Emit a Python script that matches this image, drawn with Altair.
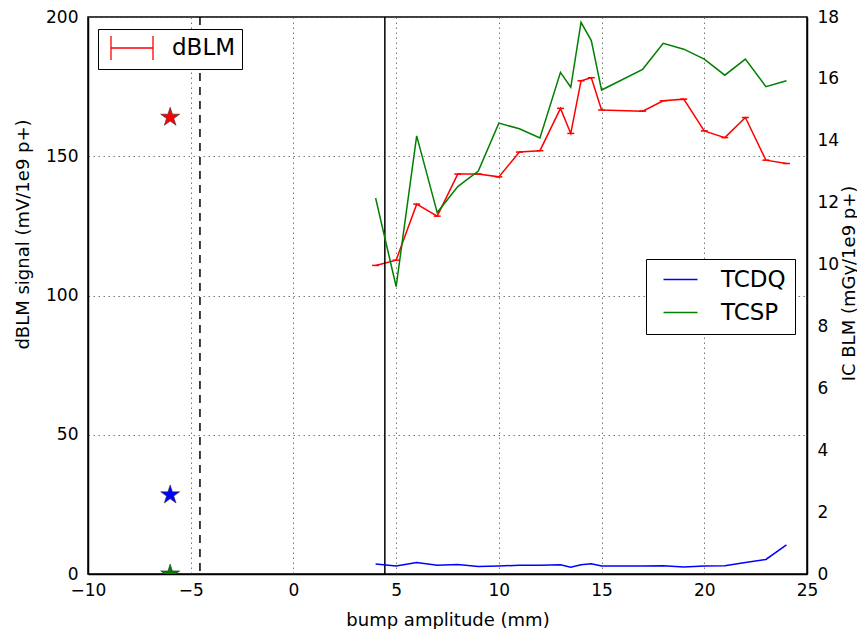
import altair as alt
import pandas as pd

# ---------------- data ----------------
amp = [4, 5, 6, 7, 8, 9, 10, 11, 12, 13, 13.5, 14, 14.5, 15, 17, 18, 19, 20, 21, 22, 23, 24]
dblm = [110.8, 112.7, 132.8, 128.5, 143.6, 143.6, 142.6, 151.5, 152.0, 167.2, 158.2,
        177.1, 178.2, 166.6, 166.2, 169.9, 170.5, 159.1, 156.7, 163.9, 148.6, 147.4]
tcsp = [12.15, 9.29, 14.16, 11.68, 12.52, 13.02, 14.57, 14.39, 14.09, 16.21, 15.73,
        17.83, 17.24, 15.64, 16.31, 17.15, 16.96, 16.64, 16.12, 16.64, 15.75, 15.94]
tcdq = [0.32, 0.26, 0.37, 0.28, 0.31, 0.24, 0.26, 0.28, 0.28, 0.30, 0.22,
        0.30, 0.33, 0.26, 0.26, 0.27, 0.23, 0.26, 0.27, 0.37, 0.47, 0.94]

star_x = [-6, -6, -6]
star_y = [164, 28.4, 0]
star_color = ["#ff0000", "#0000ff", "#008000"]

vline_x = [-4.55, 4.45]
vline_style = ["dashed", "solid"]

x_ticks = [-10, -5, 0, 5, 10, 15, 20, 25]
yl_ticks = [0, 50, 100, 150, 200]
yr_ticks = [0, 2, 4, 6, 8, 10, 12, 14, 16, 18]

FONT = "DejaVu Sans"

df = pd.DataFrame({"amp": amp, "dBLM": dblm, "TCSP": tcsp, "TCDQ": tcdq})
df["series"] = "dBLM"
stars = pd.DataFrame({"amp": star_x, "dBLM": star_y, "c": star_color})
vlines = pd.DataFrame({"amp": vline_x, "style": vline_style})

x_axis = alt.Axis(title="bump amplitude (mm)", values=x_ticks, grid=True, labelFlush=False,
                  ticks=False, labelPadding=8, titlePadding=13)
x_scale = alt.Scale(domain=[-10, 25], nice=False, zero=False)
yl_scale = alt.Scale(domain=[0, 200], nice=False)
yl_axis = alt.Axis(title="dBLM signal (mV/1e9 p+)", values=yl_ticks, grid=True, labelFlush=False,
                   ticks=False, labelPadding=10, titleX=-65, titleY=217, titleBaseline="middle")


def X(field):
    return alt.X(field, type="quantitative", scale=x_scale, axis=x_axis)


def YL(field):
    return alt.Y(field, type="quantitative", scale=yl_scale, axis=yl_axis)


errbar_path = "M-1.75,-1 L-1.75,1 M-1.75,0 L1.75,0 M1.75,-1 L1.75,1"

red_line = alt.Chart(df).mark_line(strokeWidth=1.5).encode(
    x=X("amp"),
    y=YL("dBLM"),
    color=alt.Color("series:N",
                    scale=alt.Scale(domain=["dBLM"], range=["#ff0000"]),
                    legend=alt.Legend(title=None, orient="none", legendX=10, legendY=12,
                                      symbolType=errbar_path, symbolSize=576,
                                      symbolStrokeWidth=1.3, symbolOffset=15,
                                      labelOffset=27, padding=6,
                                      labelFontSize=23, labelFont=FONT,
                                      strokeColor="black", fillColor="white")),
)

red_caps = alt.Chart(df).transform_calculate(
    lo="datum.amp - 0.17", hi="datum.amp + 0.17"
).mark_rule(color="#ff0000", strokeWidth=1.5).encode(
    x=X("lo"), x2="hi:Q", y=YL("dBLM"),
)

star_path = ("M0,-1 L0.225,-0.309 L0.951,-0.309 L0.363,0.118 L0.588,0.809 L0,0.382 "
             "L-0.588,0.809 L-0.363,0.118 L-0.951,-0.309 L-0.225,-0.309 Z")
star_layer = alt.Chart(stars).mark_point(shape=star_path, size=400, filled=True,
                                         stroke="#333333", strokeWidth=0.6, opacity=1,
                                         clip=True).encode(
    x=X("amp"), y=YL("dBLM"), fill=alt.Fill("c:N", scale=None),
)

vline_layer = alt.Chart(vlines).mark_rule(color="black", strokeWidth=1.5).encode(
    x=X("amp"),
    strokeDash=alt.StrokeDash("style:N", scale=alt.Scale(domain=["dashed", "solid"],
                                                        range=[[8, 6], [1, 0]]), legend=None),
)

left = alt.layer(red_line, red_caps, star_layer, vline_layer)

right = alt.Chart(df).transform_fold(["TCDQ", "TCSP"], as_=["key", "value"]).mark_line(
    strokeWidth=1.5).encode(
    x=X("amp"),
    y=alt.Y("value:Q", scale=alt.Scale(domain=[0, 18], nice=False),
            axis=alt.Axis(title="IC BLM (mGy/1e9 p+)", orient="right", values=yr_ticks,
                          grid=False, labelFlush=False, ticks=False, labelPadding=10,
                          titleAngle=-90, titleBaseline="middle", titleX=42, titleY=266)),
    color=alt.Color("key:N", scale=alt.Scale(domain=["TCDQ", "TCSP"], range=["#0000ff", "#008000"]),
                    legend=alt.Legend(title=None, orient="none", legendX=558, legendY=242,
                                      symbolType="M-1.7,0 L1.7,0", symbolSize=400,
                                      symbolStrokeWidth=1.5, symbolOffset=14, labelOffset=29,
                                      padding=9, rowPadding=9,
                                      labelFontSize=23, labelFont=FONT,
                                      strokeColor="black", fillColor="white")),
)

chart = alt.layer(left, right).resolve_scale(y="independent", color="independent").properties(
    width=719, height=557,
    autosize=alt.AutoSizeParams(type="none"),
    padding={"left": 80, "top": 9, "right": 50, "bottom": 55},
).configure(
    font=FONT,
).configure_axis(
    labelFont=FONT, titleFont=FONT, labelFontSize=17, titleFontSize=18,
    titleFontWeight="normal", labelColor="black", titleColor="black",
    domainColor="black", domainWidth=1.5,
    gridColor="#555555", gridDash=[1.5, 3.5], gridWidth=0.8,
).configure_view(
    stroke="black", strokeWidth=1.5,
).configure_legend(
    labelColor="black", cornerRadius=0,
)

chart.save("out.html", embed_options={"renderer": "svg", "actions": False})
